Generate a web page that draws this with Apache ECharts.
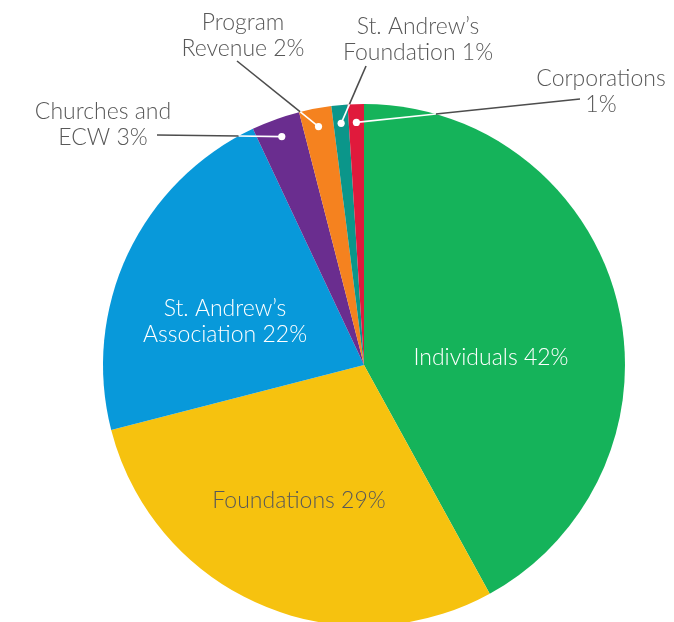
<!DOCTYPE html>
<html>
<head>
<meta charset="utf-8">
<script src="https://cdn.jsdelivr.net/npm/echarts@6/dist/echarts.min.js"></script>
<style>
html,body{margin:0;padding:0;background:#fff;}
#chart{width:674px;height:622px;}
</style>
</head>
<body>
<div id="chart"></div>
<script>
// ---- data ----
var categories = ['Individuals', 'Foundations', 'St. Andrew\u2019s\nAssociation', 'Churches and\nECW', 'Program\nRevenue', 'St. Andrew\u2019s\nFoundation', 'Corporations\n'];
var values = [42, 29, 22, 3, 2, 1, 1];
var colors = ['#15b35a', '#f6c20f', '#0899da', '#6a2d8f', '#f5821f', '#0b968a', '#e01a3c'];
var labelColors = ['#ffffff', '#585858', '#ffffff', '#585858', '#585858', '#585858', '#585858'];
// label placement (layout) and leader-line label ends; null = label inside, no leader
var labelPos = [[491, 358], [299, 501], [225, 322], [103, 125], [243, 36], [418, 40], [601, 92]];
var leaderEnds = [null, null, null, [157, 135], [237, 61], [366, 66], [580, 99]];

var chart = echarts.init(document.getElementById('chart'), null, {renderer: 'canvas'});
var font = 'Lato, "Noto Sans", sans-serif';

var seriesData = categories.map(function (c, i) {
  return {
    name: c,
    value: values[i],
    itemStyle: {color: colors[i]},
    label: {color: labelColors[i]}
  };
});

chart.setOption({
  animation: false,
  series: [{
    type: 'pie',
    center: [364, 365],
    radius: 261,
    startAngle: 90,
    clockwise: true,
    data: seriesData,
    itemStyle: {borderWidth: 0},
    label: {
      show: true,
      position: 'inside',
      fontFamily: font,
      fontSize: 23,
      fontWeight: 300,
      lineHeight: 26,
      align: 'center',
      formatter: function (p) {
        var n = p.name;
        return n.charAt(n.length - 1) === '\n' ? n + p.value + '%' : n + ' ' + p.value + '%';
      }
    },
    labelLine: {show: false},
    labelLayout: function (p) {
      var pos = labelPos[p.dataIndex];
      return {x: pos[0], y: pos[1], align: 'center', verticalAlign: 'middle'};
    },
    emphasis: {disabled: true}
  }]
});

// leader lines with dots, anchored on the library's sector layout
var data = chart.getModel().getSeriesByIndex(0).getData();
var graphics = [];
for (var i = 0; i < values.length; i++) {
  var L = leaderEnds[i];
  if (!L) continue;
  var lay = data.getItemLayout(i);
  var mid = (lay.startAngle + lay.endAngle) / 2;
  var rd = lay.r * 0.93;
  var D = [lay.cx + rd * Math.cos(mid), lay.cy + rd * Math.sin(mid)];
  var f = [D[0] - lay.cx, D[1] - lay.cy];
  var d = [L[0] - D[0], L[1] - D[1]];
  var a = d[0] * d[0] + d[1] * d[1];
  var b = 2 * (f[0] * d[0] + f[1] * d[1]);
  var c = f[0] * f[0] + f[1] * f[1] - lay.r * lay.r;
  var t = (-b + Math.sqrt(b * b - 4 * a * c)) / (2 * a);
  var E = [D[0] + t * d[0], D[1] + t * d[1]];
  graphics.push({type: 'line', z: 100, shape: {x1: L[0], y1: L[1], x2: E[0], y2: E[1]}, style: {stroke: '#4d4d4d', lineWidth: 1.6}});
  graphics.push({type: 'line', z: 101, shape: {x1: E[0], y1: E[1], x2: D[0], y2: D[1]}, style: {stroke: '#ffffff', lineWidth: 1.6}});
  graphics.push({type: 'circle', z: 102, shape: {cx: D[0], cy: D[1], r: 3.6}, style: {fill: '#ffffff'}});
}
chart.setOption({graphic: graphics});
</script>
</body>
</html>
